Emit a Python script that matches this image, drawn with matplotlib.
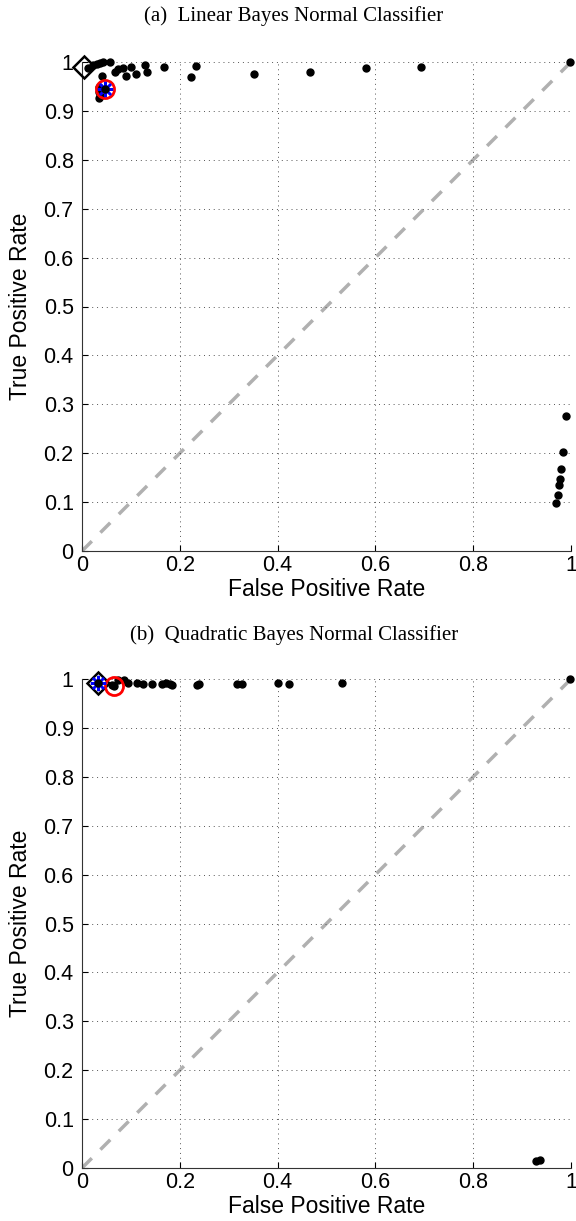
import matplotlib.pyplot as plt
import numpy as np

# --- panel (a): linear bayes normal classifier ---
lin_fpr = [0.013, 0.023, 0.030, 0.037, 0.042, 0.057, 0.040, 0.067, 0.074, 0.083,
           0.090, 0.100, 0.110, 0.129, 0.133, 0.168, 0.222, 0.234, 0.351, 0.466,
           0.580, 0.693, 0.998, 0.034, 0.034, 0.036, 0.035, 0.048,
           0.990, 0.984, 0.980, 0.977, 0.975, 0.973, 0.970]
lin_tpr = [0.987, 0.994, 0.996, 0.997, 0.999, 1.000, 0.971, 0.980, 0.985, 0.987,
           0.972, 0.990, 0.976, 0.994, 0.979, 0.989, 0.970, 0.992, 0.975, 0.979,
           0.987, 0.990, 1.000, 0.948, 0.939, 0.930, 0.926, 0.945,
           0.277, 0.202, 0.168, 0.147, 0.135, 0.115, 0.098]
lin_best = (0.005, 0.990)     # diamond
lin_chosen = (0.048, 0.945)   # circle + asterisk

# --- panel (b): quadratic bayes normal classifier ---
quad_fpr = [0.032, 0.062, 0.066, 0.074, 0.085, 0.095, 0.112, 0.125, 0.143, 0.163,
            0.180, 0.172, 0.185, 0.236, 0.240, 0.316, 0.327, 0.401, 0.424, 0.531,
            0.998, 0.928, 0.936]
quad_tpr = [0.992, 0.987, 0.985, 0.997, 0.997, 0.992, 0.991, 0.990, 0.990, 0.990,
            0.989, 0.992, 0.987, 0.987, 0.990, 0.990, 0.989, 0.991, 0.990, 0.991,
            1.000, 0.014, 0.016]
quad_best = (0.032, 0.992)
quad_chosen = (0.066, 0.985)
quad_star = (0.032, 0.992)

titles = ['(a)  Linear Bayes Normal Classifier', '(b)  Quadratic Bayes Normal Classifier']

W, H = 576, 1221
fig = plt.figure(figsize=(W / 100, H / 100), dpi=100)
ax_a = fig.add_axes([82 / W, (H - 551) / H, 489 / W, 489 / H])
ax_b = fig.add_axes([82 / W, (H - 1168) / H, 489 / W, 489 / H])

sans = ['Liberation Sans', 'DejaVu Sans']
serif = ['Liberation Serif', 'DejaVu Serif']


def roc_panel(ax, fpr, tpr, best, circ, star):
    ax.plot([0, 1], [0, 1], '--', color='#b0b0b0', lw=2.5, dashes=(4, 3.5), zorder=1)
    ax.plot(fpr, tpr, 'o', color='black', ms=5, zorder=3, clip_on=False)
    ax.plot(*best, 'D', mfc='none', mec='black', ms=11, mew=1.8, zorder=4, clip_on=False)
    if circ is not None:
        ax.plot(*circ, 'o', mfc='none', mec='red', ms=13, mew=2, zorder=4, clip_on=False)
    if star is not None:
        ax.plot(*star, marker=(8, 2, 0), color='blue', ms=11, mew=1.8, zorder=5, clip_on=False)
        ax.plot(*star, 'o', color='black', ms=5, zorder=6, clip_on=False)
    ax.set_xlim(0, 1)
    ax.set_ylim(0, 1)
    ax.set_xticks(np.arange(0, 1.01, 0.2))
    ax.set_yticks(np.arange(0, 1.01, 0.1))
    ax.set_xticklabels(['0', '0.2', '0.4', '0.6', '0.8', '1'])
    ax.set_yticklabels(['0', '0.1', '0.2', '0.3', '0.4', '0.5', '0.6', '0.7', '0.8', '0.9', '1'])
    for lab in ax.get_xticklabels() + ax.get_yticklabels():
        lab.set_family(sans)
        lab.set_fontsize(15.5)
    ax.grid(True, linestyle=(0, (1, 4)), color='#555555', lw=0.7)
    ax.tick_params(direction='in', length=4, width=0.8)
    ax.tick_params(axis='x', pad=3)
    ax.tick_params(axis='y', pad=6)
    ax.spines['top'].set_visible(False)
    ax.spines['right'].set_visible(False)
    ax.spines['left'].set_color('#333333')
    ax.spines['bottom'].set_color('#333333')
    ax.set_xlabel('False Positive Rate', family=sans, fontsize=16.5)
    ax.set_ylabel('True Positive Rate', family=sans, fontsize=16.5)
    ax.xaxis.set_label_coords(0.5, -0.079)
    ax.yaxis.set_label_coords(-0.125, 0.5)
    ax.xaxis.label.set_va('center')
    ax.yaxis.label.set_va('center')


roc_panel(ax_a, lin_fpr, lin_tpr, lin_best, lin_chosen, lin_chosen)
roc_panel(ax_b, quad_fpr, quad_tpr, quad_best, quad_chosen, quad_star)

fig.text(294 / W, 1 - 16 / H, titles[0], family=serif, fontsize=15, ha='center', va='center')
fig.text(294 / W, 1 - 635 / H, titles[1], family=serif, fontsize=15, ha='center', va='center')

fig.savefig('out.png', dpi=100)
